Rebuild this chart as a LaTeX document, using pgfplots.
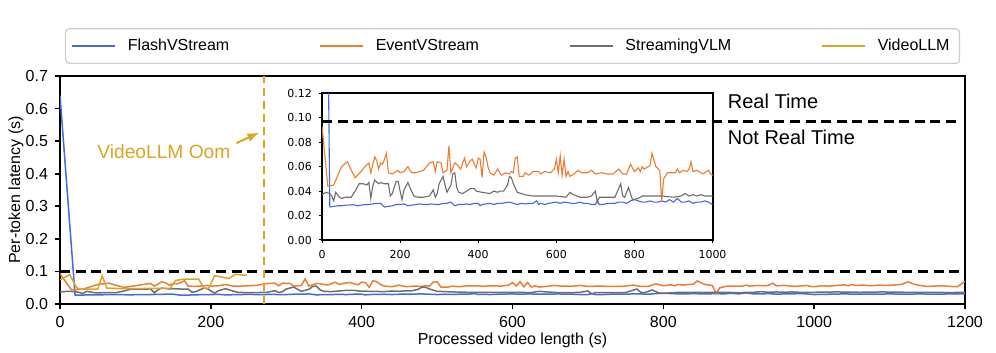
\documentclass[border=0pt]{standalone}
\usepackage{fontspec}
\setmainfont{Liberation Sans}
\newfontfamily\dejavu{DejaVu Sans}
\usepackage{pgfplots}
\usepackage{pgfplotstable}
\pgfplotsset{compat=1.18}

\definecolor{cflash}{HTML}{4169E1}
\definecolor{cevent}{HTML}{ED7D31}
\definecolor{cstream}{HTML}{6E6E6E}
\definecolor{cvllm}{HTML}{DAA520}

% per-token latency (s) vs processed video length (s)
\pgfplotstableread{
x y
0 0.640
20 0.027
30 0.0275
40 0.028
50 0.028
60 0.0285
70 0.0285
80 0.029
90 0.028
100 0.0285
110 0.029
120 0.029
130 0.0295
140 0.030
150 0.030
160 0.027
170 0.0275
180 0.028
190 0.029
200 0.029
210 0.0295
220 0.028
230 0.0285
240 0.029
250 0.0295
260 0.029
270 0.029
280 0.0295
290 0.029
300 0.029
310 0.030
320 0.030
330 0.031
340 0.028
350 0.029
360 0.029
370 0.0295
380 0.029
390 0.030
400 0.030
405 0.028
410 0.029
420 0.0295
430 0.030
440 0.029
450 0.030
460 0.030
470 0.0305
480 0.031
490 0.030
500 0.029
510 0.030
520 0.0295
530 0.030
540 0.030
550 0.032
555 0.029
560 0.030
570 0.029
580 0.030
590 0.0305
600 0.031
610 0.030
620 0.031
630 0.0305
640 0.030
650 0.030
660 0.031
670 0.030
680 0.030
690 0.029
700 0.029
705 0.032
710 0.029
720 0.029
730 0.030
740 0.030
750 0.030
760 0.031
770 0.031
780 0.030
790 0.032
800 0.033
810 0.032
820 0.031
830 0.031
840 0.032
850 0.031
860 0.031
870 0.032
880 0.031
890 0.033
900 0.031
910 0.034
920 0.031
930 0.031
940 0.032
950 0.030
960 0.031
970 0.031
980 0.032
990 0.031
1000 0.029
1020 0.030
1040 0.031
1060 0.030
1080 0.030
1100 0.031
1120 0.030
1140 0.031
1160 0.030
1180 0.031
1200 0.031
}\flash

\pgfplotstableread{
x y
0 0.093
15 0.044
30 0.045
50 0.060
65 0.064
75 0.057
85 0.051
100 0.056
110 0.060
120 0.063
125 0.055
135 0.068
140 0.065
145 0.058
150 0.063
155 0.062
160 0.066
165 0.071
170 0.055
180 0.054
190 0.056
195 0.057
200 0.055
210 0.056
220 0.060
225 0.057
230 0.055
240 0.055
260 0.057
275 0.063
285 0.064
290 0.056
295 0.064
305 0.063
310 0.055
320 0.057
325 0.077
330 0.055
340 0.063
345 0.062
355 0.058
365 0.067
370 0.060
380 0.065
385 0.066
390 0.062
395 0.059
400 0.067
405 0.066
410 0.051
415 0.072
420 0.068
425 0.060
430 0.055
440 0.053
450 0.058
455 0.055
460 0.053
470 0.055
480 0.054
485 0.056
490 0.055
495 0.067
500 0.068
505 0.052
515 0.052
520 0.055
530 0.053
540 0.056
555 0.056
560 0.054
570 0.056
585 0.055
595 0.058
600 0.066
605 0.055
610 0.069
615 0.053
620 0.066
625 0.052
630 0.056
635 0.052
645 0.054
655 0.057
665 0.055
680 0.055
690 0.057
700 0.054
715 0.055
730 0.054
745 0.054
760 0.058
770 0.054
780 0.054
790 0.062
800 0.056
810 0.059
815 0.056
820 0.060
825 0.058
835 0.060
840 0.061
845 0.071
855 0.060
865 0.057
870 0.032
875 0.050
885 0.055
895 0.055
905 0.055
910 0.058
915 0.055
925 0.057
935 0.056
940 0.058
945 0.064
950 0.056
960 0.057
970 0.055
975 0.054
990 0.057
995 0.054
1000 0.053
1010 0.056
1020 0.055
1030 0.057
1040 0.059
1045 0.056
1050 0.060
1055 0.057
1065 0.058
1075 0.056
1085 0.058
1095 0.057
1105 0.058
1115 0.060
1125 0.068
1132 0.061
1140 0.057
1150 0.054
1160 0.055
1170 0.056
1180 0.054
1190 0.053
1200 0.070
}\event

\pgfplotstableread{
x y
0 0.037
10 0.039
20 0.038
25 0.036
30 0.032
35 0.039
45 0.035
50 0.034
60 0.035
75 0.035
85 0.040
95 0.046
105 0.046
115 0.045
120 0.047
125 0.034
130 0.044
135 0.049
145 0.046
150 0.047
160 0.046
170 0.046
175 0.036
180 0.038
190 0.048
195 0.048
200 0.040
205 0.033
210 0.041
220 0.047
225 0.043
235 0.036
245 0.035
260 0.035
275 0.036
285 0.041
290 0.035
295 0.038
300 0.046
310 0.052
315 0.045
320 0.039
330 0.045
335 0.054
340 0.055
345 0.043
350 0.039
360 0.038
370 0.040
380 0.042
390 0.042
395 0.040
410 0.039
430 0.038
440 0.040
450 0.039
455 0.040
465 0.040
475 0.045
480 0.052
485 0.051
490 0.046
500 0.039
520 0.037
540 0.036
560 0.036
580 0.036
600 0.036
625 0.035
635 0.039
645 0.037
660 0.035
680 0.035
690 0.036
700 0.040
705 0.031
710 0.035
720 0.035
750 0.035
765 0.046
770 0.036
775 0.035
785 0.043
795 0.033
810 0.034
820 0.036
850 0.036
870 0.036
900 0.035
920 0.036
930 0.038
940 0.036
950 0.037
960 0.036
970 0.037
980 0.036
1000 0.036
1030 0.037
1060 0.036
1090 0.037
1120 0.036
1150 0.036
1180 0.035
1200 0.036
}\streaming

\pgfplotstableread{
x y
0 0.074
13 0.090
22 0.050
27 0.046
50 0.046
56 0.086
62 0.049
80 0.047
100 0.047
120 0.048
146 0.048
153 0.072
163 0.076
184 0.076
191 0.048
197 0.048
205 0.087
224 0.078
232 0.091
248 0.088
}\videollm

\begin{document}
\begin{tikzpicture}[font=\fontsize{8}{9.6}\selectfont]
\begin{axis}[
  scale only axis,
  width=452.5pt, height=114pt,
  xmin=0, xmax=1200, ymin=0, ymax=0.7,
  xtick={0,200,...,1200},
  ytick={0,0.1,...,0.7},
  xticklabel style={/pgf/number format/.cd,set thousands separator={}},
  yticklabel style={/pgf/number format/.cd,fixed,fixed zerofill,precision=1},
  /pgf/number format/assume math mode=true,
  tick label style={font=\fontsize{8}{9.6}\selectfont},
  xtick pos=bottom, ytick pos=left,
  tick align=outside,
  major tick length=2.5pt,
  every tick/.style={black, line width=0.8pt},
  axis line style={line width=1pt},
  xlabel={Processed video length (s)},
  ylabel={Per-token latency (s)},
  label style={font=\fontsize{8.2}{9.8}\selectfont},
  every axis x label/.style={at={(axis description cs:0.5,-0.158)}, anchor=center},
  every axis y label/.style={at={(axis description cs:-0.0486,0.5)}, rotate=90, anchor=center},
  legend columns=4,
  legend cell align=left,
  legend image code/.code={\draw[#1] (0pt,0pt) -- (21.5pt,0pt);},
  legend style={at={(0.5,1)}, anchor=south, yshift=6pt,
    draw=black!20, rounded corners=2pt, line width=0.6pt,
    inner xsep=3pt, inner ysep=3pt,
    font=\fontsize{8}{9.6}\selectfont,
    /tikz/every odd column/.append style={column sep=4pt},
    /tikz/every even column/.append style={column sep=43pt}},
]
\addplot[cflash, line width=0.75pt] table {\flash};
\addlegendentry{FlashVStream}
\addplot[cevent, line width=0.75pt] table {\event};
\addlegendentry{EventVStream}
\addplot[cstream, line width=0.75pt] table {\streaming};
\addlegendentry{StreamingVLM}
\addplot[cvllm, line width=0.75pt] table {\videollm};
\addlegendentry{VideoLLM}
\addplot[black, line width=1.5pt, dash pattern=on 5pt off 2.8pt, forget plot] coordinates {(0,0.1) (1200,0.1)};
\addplot[cvllm, line width=1pt, dash pattern=on 4pt off 2.5pt, forget plot] coordinates {(270,0) (270,0.7)};
\draw[cvllm, line width=1pt, -latex] (axis cs:234,0.494) -- (axis cs:264,0.526);
\node[anchor=west, inner sep=0pt, text=cvllm, font=\fontsize{9.6}{11.5}\selectfont] at (axis cs:49,0.467) {VideoLLM Oom};
\node[anchor=west, inner sep=0pt, font=\fontsize{10}{12}\selectfont] at (axis cs:885,0.623) {Real Time};
\node[anchor=west, inner sep=0pt, font=\fontsize{10}{12}\selectfont] at (axis cs:885,0.511) {Not Real Time};
\end{axis}

\begin{axis}[
  at={(131pt,32pt)}, anchor=south west,
  scale only axis,
  width=195.25pt, height=73.35pt,
  xmin=0, xmax=1000, ymin=0, ymax=0.12,
  xtick={0,200,...,1000},
  ytick={0,0.02,...,0.12},
  xticklabel style={/pgf/number format/.cd,set thousands separator={}},
  yticklabel style={/pgf/number format/.cd,fixed,fixed zerofill,precision=2},
  /pgf/number format/assume math mode=true,
  tick label style={font=\dejavu\fontsize{5.5}{6.6}\selectfont},
  xtick pos=bottom, ytick pos=left,
  tick align=outside,
  major tick length=1.5pt,
  every tick/.style={black, line width=0.5pt},
  axis line style={line width=1pt},
  axis background/.style={fill=white},
  clip mode=individual,
]
\addplot[cflash, line width=0.55pt] table {\flash};
\addplot[cevent, line width=0.55pt] table {\event};
\addplot[cstream, line width=0.55pt] table {\streaming};
\draw[black, line width=1.5pt, dash pattern=on 5pt off 2.8pt] (axis cs:0,0.0973) -- (axis cs:1634,0.0973);
\end{axis}
\pgfresetboundingbox
\path (-30pt,-24.5pt) rectangle (468pt,152pt);
\end{tikzpicture}
\end{document}
